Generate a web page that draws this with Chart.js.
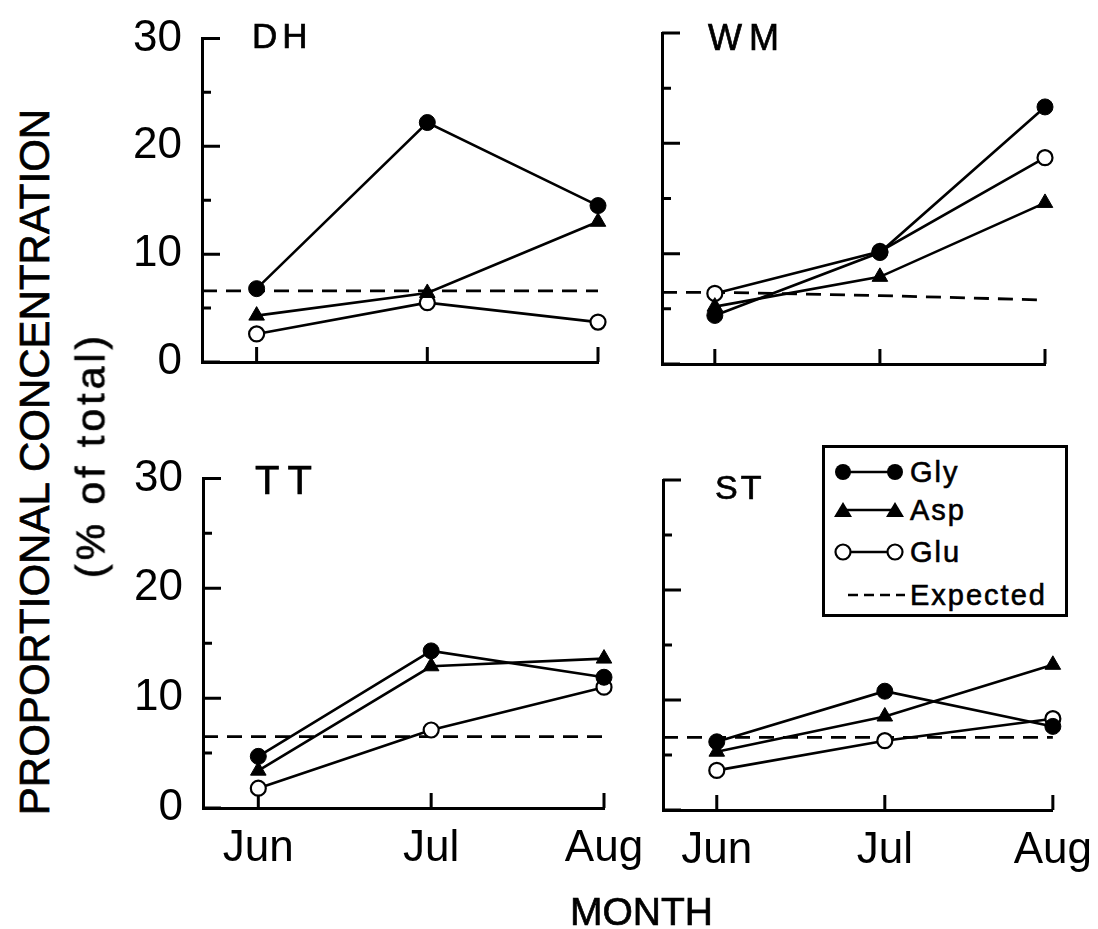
<!DOCTYPE html>
<html>
<head>
<meta charset="utf-8">
<script src="https://cdn.jsdelivr.net/npm/chart.js@4"></script>
<style>
  body { margin: 0; background: #fff; }
  #wrap { position: relative; width: 1098px; height: 929px; background: #fff; overflow: hidden;
          font-family: "Liberation Sans", Arial, Helvetica, sans-serif; color: #000; }
  canvas { position: absolute; }
  .t { position: absolute; line-height: 1; white-space: nowrap; -webkit-text-stroke: 0.7px #000; }
  .rot { position: absolute; white-space: nowrap; line-height: 1; -webkit-text-stroke: 0.7px #000;
         transform: translate(-50%, -50%) rotate(-90deg); }
</style>
</head>
<body>
<div id="wrap">
  <canvas id="dh" width="560" height="430" style="left:100px;top:0px"></canvas>
  <canvas id="wm" width="538" height="430" style="left:560px;top:0px"></canvas>
  <canvas id="tt" width="560" height="489" style="left:100px;top:440px"></canvas>
  <canvas id="st" width="538" height="489" style="left:560px;top:440px"></canvas>

  <div class="t" style="left:252px;top:18px;font-size:35px;letter-spacing:5px">DH</div>
  <div class="t" style="left:708px;top:20px;font-size:36px;letter-spacing:7px">WM</div>
  <div class="t" style="left:255px;top:460px;font-size:40px;letter-spacing:8px">TT</div>
  <div class="t" style="left:715px;top:470px;font-size:34px;letter-spacing:3px">ST</div>

  <div class="rot" style="left:35px;top:462px;font-size:42px">PROPORTIONAL CONCENTRATION</div>
  <div class="rot" style="left:91px;top:455px;font-size:41px;letter-spacing:4px">(% of total)</div>
  <div class="t" style="left:570px;top:892px;font-size:39px">MONTH</div>

  <svg id="legend" style="position:absolute;left:822px;top:445px" width="246" height="172">
    <rect x="1.5" y="1.5" width="243" height="169" fill="#fff" stroke="#000" stroke-width="3"/>
    <line x1="21" y1="27" x2="73" y2="27" stroke="#000" stroke-width="2.6"/>
    <circle cx="21" cy="27" r="8" fill="#000"/><circle cx="73" cy="27" r="8" fill="#000"/>
    <line x1="21" y1="65" x2="73" y2="65" stroke="#000" stroke-width="2.6"/>
    <polygon points="12,72 21,57 30,72" fill="#000"/><polygon points="64,72 73,57 82,72" fill="#000"/>
    <line x1="21" y1="107" x2="73" y2="107" stroke="#000" stroke-width="2.6"/>
    <circle cx="21" cy="107" r="7.5" fill="#fff" stroke="#000" stroke-width="2.2"/><circle cx="73" cy="107" r="7.5" fill="#fff" stroke="#000" stroke-width="2.2"/>
    <line x1="26" y1="150" x2="83" y2="150" stroke="#000" stroke-width="2.6" stroke-dasharray="10,6"/>
    <g font-family="Liberation Sans, Arial, sans-serif" font-size="29" letter-spacing="2" stroke="#000" stroke-width="0.6">
      <text x="88" y="37">Gly</text>
      <text x="88" y="75">Asp</text>
      <text x="88" y="117">Glu</text>
      <text x="88" y="160">Expected</text>
    </g>
  </svg>
</div>
<script>
// data (% of total)
const months = ["Jun", "Jul", "Aug"];
const yTicks = [0, 5, 10, 15, 20, 25, 30];

const dhGly = [6.8, 22.2, 14.5];
const dhAsp = [4.3, 6.4, 13.0];
const dhGlu = [2.6, 5.5, 3.7];
const dhExp = [6.6, 6.6, 6.6];

const wmGly = [4.4, 10.1, 23.3];
const wmAsp = [5.2, 7.9, 14.6];
const wmGlu = [6.4, 10.2, 18.7];
const wmExp = [6.5, 6.2, 5.8];

const ttGly = [4.7, 14.3, 11.9];
const ttAsp = [3.4, 12.9, 13.6];
const ttGlu = [1.8, 7.1, 11.0];
const ttExp = [6.5, 6.5, 6.5];

const stGly = [6.2, 10.8, 7.6];
const stAsp = [5.3, 8.5, 13.2];
const stGlu = [3.6, 6.3, 8.3];
const stExp = [6.6, 6.6, 6.6];

const X_MIN = -0.32;
const FONT = '"Liberation Sans", Arial, sans-serif';

const inwardTicks = {
  id: "inwardTicks",
  beforeDatasetsDraw(chart) {
    const { ctx, chartArea, scales } = chart;
    ctx.save();
    ctx.strokeStyle = "#000";
    ctx.lineWidth = 3;
    ctx.beginPath();
    yTicks.forEach((v) => {
      const py = scales.y.getPixelForValue(v);
      const len = v % 10 === 0 ? 18 : 9;
      ctx.moveTo(chartArea.left, py);
      ctx.lineTo(chartArea.left + len, py);
    });
    months.forEach((m, i) => {
      const px = scales.x.getPixelForValue(i);
      ctx.moveTo(px, chartArea.bottom);
      ctx.lineTo(px, chartArea.bottom - 15);
    });
    ctx.stroke();
    ctx.restore();
  },
};

function pts(arr) {
  return arr.map((v, i) => ({ x: i, y: v }));
}

function makePanel(id, box, area, showY, showX, gly, asp, glu, exp) {
  const expPts = [{ x: X_MIN, y: exp[0] }].concat(pts(exp));
  new Chart(document.getElementById(id), {
    type: "line",
    data: {
      datasets: [
        { label: "Gly", data: pts(gly), borderColor: "#000", borderWidth: 2.6, pointStyle: "circle",
          pointRadius: 8, pointBackgroundColor: "#000", pointBorderColor: "#000", pointBorderWidth: 1, clip: false },
        { label: "Asp", data: pts(asp), borderColor: "#000", borderWidth: 2.6, pointStyle: "triangle",
          pointRadius: 9, pointBackgroundColor: "#000", pointBorderColor: "#000", pointBorderWidth: 1, clip: false },
        { label: "Glu", data: pts(glu), borderColor: "#000", borderWidth: 2.6, pointStyle: "circle",
          pointRadius: 7.5, pointBackgroundColor: "#fff", pointBorderColor: "#000", pointBorderWidth: 2.2, clip: false },
        { label: "Expected", data: expPts, borderColor: "#000", borderWidth: 2.8, borderDash: [15, 9],
          pointRadius: 0, clip: false },
      ],
    },
    options: {
      responsive: false,
      animation: false,
      layout: {
        padding: { left: 0, top: area.top - box.top, right: box.left + box.w - area.right, bottom: 0 },
      },
      plugins: { legend: { display: false }, tooltip: { enabled: false } },
      scales: {
        x: {
          type: "linear",
          min: X_MIN,
          max: 2,
          grid: { display: false },
          border: { display: true, width: 3, color: "#000" },
          afterBuildTicks: (s) => { s.ticks = months.map((m, i) => ({ value: i })); },
          afterFit: (s) => { s.height = box.top + box.h - area.bottom; },
          ticks: {
            display: showX,
            padding: 6,
            color: "#000",
            font: { family: FONT, size: 44 },
            callback: (v) => months[v] || "",
          },
        },
        y: {
          min: 0,
          max: 30,
          grid: { display: false },
          border: { display: true, width: 3, color: "#000" },
          afterBuildTicks: (s) => { s.ticks = yTicks.map((v) => ({ value: v })); },
          afterFit: (s) => { s.width = area.left - box.left; },
          ticks: {
            display: showY,
            padding: 12,
            color: "#000",
            font: { family: FONT, size: 44 },
            callback: (v) => (v % 10 === 0 ? String(v) : ""),
          },
        },
      },
    },
    plugins: [inwardTicks],
  });
}

makePanel("dh", { left: 100, top: 0, w: 560, h: 430 }, { left: 202, top: 32, right: 598, bottom: 362 }, true, false, dhGly, dhAsp, dhGlu, dhExp);
makePanel("wm", { left: 560, top: 0, w: 538, h: 430 }, { left: 662, top: 33, right: 1045, bottom: 364 }, false, false, wmGly, wmAsp, wmGlu, wmExp);
makePanel("tt", { left: 100, top: 440, w: 560, h: 489 }, { left: 203, top: 476, right: 604, bottom: 808 }, true, true, ttGly, ttAsp, ttGlu, ttExp);
makePanel("st", { left: 560, top: 440, w: 538, h: 489 }, { left: 663, top: 480, right: 1053, bottom: 810 }, false, true, stGly, stAsp, stGlu, stExp);
</script>
</body>
</html>
